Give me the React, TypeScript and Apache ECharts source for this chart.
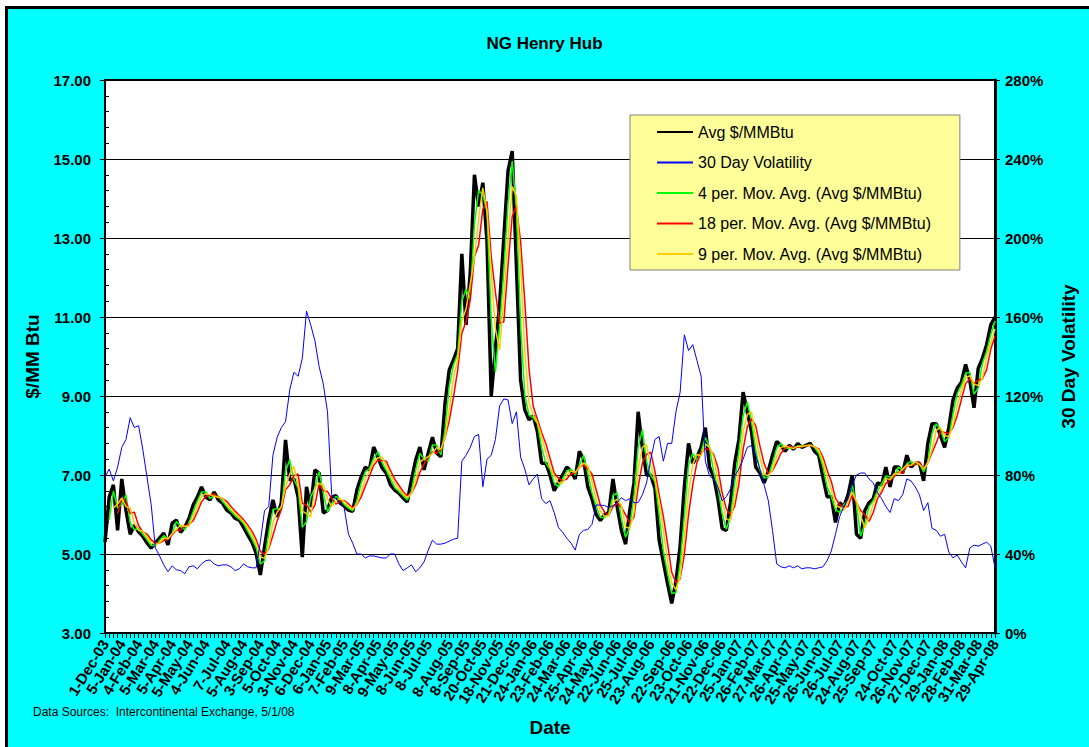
import React, { useEffect, useRef } from "react";
import * as echarts from "echarts";

// x-axis tick labels (every ~21 trading days)
const DATE_LABELS = [
  "1-Dec-03", "5-Jan-04", "4-Feb-04", "5-Mar-04", "5-Apr-04", "5-May-04", "4-Jun-04", "7-Jul-04",
  "5-Aug-04", "3-Sep-04", "5-Oct-04", "3-Nov-04", "6-Dec-04", "6-Jan-05", "7-Feb-05", "9-Mar-05",
  "8-Apr-05", "9-May-05", "8-Jun-05", "8-Jul-05", "8-Aug-05", "8-Sep-05", "20-Oct-05", "18-Nov-05",
  "21-Dec-05", "24-Jan-06", "23-Feb-06", "24-Mar-06", "25-Apr-06", "24-May-06", "22-Jun-06", "25-Jul-06",
  "23-Aug-06", "22-Sep-06", "23-Oct-06", "21-Nov-06", "22-Dec-06", "25-Jan-07", "26-Feb-07", "27-Mar-07",
  "26-Apr-07", "25-May-07", "26-Jun-07", "26-Jul-07", "24-Aug-07", "25-Sep-07", "24-Oct-07", "26-Nov-07",
  "27-Dec-07", "29-Jan-08", "28-Feb-08", "31-Mar-08", "29-Apr-08",
];

const AVG_PRICE = [
  5.3, 6.44, 6.75, 5.6, 6.9, 6.1, 5.5, 5.73, 5.56, 5.45,
  5.28, 5.15, 5.28, 5.4, 5.53, 5.23, 5.78, 5.86, 5.55, 5.68,
  5.9, 6.24, 6.44, 6.7, 6.44, 6.37, 6.57, 6.37, 6.29, 6.11,
  6.04, 5.9, 5.86, 5.68, 5.48, 5.3, 5.02, 4.47, 5.18, 5.86,
  6.37, 5.94, 6.3, 7.89, 6.87, 6.9, 6.44, 4.92, 6.7, 6.19,
  7.13, 7.05, 6.04, 6.1, 6.44, 6.48, 6.29, 6.21, 6.11, 6.08,
  6.62, 6.95, 7.2, 7.13, 7.71, 7.46, 7.18, 7.05, 6.75, 6.62,
  6.54, 6.42, 6.32, 6.87, 7.38, 7.71, 7.13, 7.56, 7.96, 7.56,
  7.46, 8.82, 9.66, 9.91, 10.2, 12.6, 10.8, 12.1, 14.6, 13.8,
  14.4, 12.9, 9.0, 10.2, 11.3, 13.0, 14.7, 15.2, 12.3, 9.4,
  8.65, 8.4, 8.5, 8.1, 7.3, 7.3, 7.0, 6.6, 6.8, 7.0,
  7.2, 7.1, 6.9, 7.6, 7.4, 6.7, 6.4, 6.0, 5.85, 6.0,
  6.05, 6.9, 6.2, 5.6, 5.25, 6.1, 6.8, 8.6, 7.7, 7.0,
  7.0, 6.66, 5.35, 4.8, 4.25, 3.75, 4.3, 5.2, 6.7, 7.8,
  7.3, 7.45, 7.7, 8.2, 7.2, 6.95, 6.4, 5.65, 5.6, 6.3,
  7.3, 7.9, 9.1, 8.6, 8.1, 7.2, 7.05, 6.8, 7.1, 7.5,
  7.85, 7.75, 7.6, 7.75, 7.65, 7.8, 7.7, 7.75, 7.8, 7.6,
  7.5, 6.95, 6.45, 6.45, 5.8, 6.3, 6.2, 6.5, 7.0, 5.5,
  5.4, 6.1, 6.3, 6.4, 6.8, 6.75, 7.2, 6.7, 7.2, 7.2,
  7.05, 7.5, 7.2, 7.3, 7.3, 6.85, 7.8, 8.3, 8.3, 8.0,
  7.7, 8.2, 8.9, 9.2, 9.35, 9.8, 9.4, 8.7, 9.7, 9.95,
  10.3, 10.8, 11.0,
];

// 30 Day Volatility, %, same sampling
const VOLATILITY = [
  79, 83, 77, 84, 94, 98, 109, 104, 105, 93,
  79, 65, 43, 39, 34.5, 31, 34, 32, 31.6, 30,
  33.5, 34, 32.5, 35, 36.6, 37, 35, 34, 34.5, 34.5,
  33.5, 31.6, 32.5, 35, 33.5, 33, 33, 46, 62, 64,
  90, 99, 104, 107, 123, 132, 130, 139, 163, 156,
  148, 135, 126, 112, 70, 68, 66, 63, 50, 45.5,
  40, 40, 38, 39, 39, 38.5, 38, 38, 40, 40,
  35, 31.6, 33, 34.5, 31, 33, 36, 42, 47, 45,
  45, 45.5, 46.5, 47.5, 48, 87, 90, 94, 99.5, 100.5,
  74, 88, 90, 98, 115, 118.5, 118, 106, 112, 89,
  83, 75, 78, 80.5, 68, 65.5, 67, 61, 53.5, 51,
  48, 45.5, 42, 50, 52, 52.4, 55, 64.8, 64.8, 64.5,
  63.6, 64.5, 66, 68.5, 67, 68, 66, 66, 70, 76,
  88, 98, 99.5, 87, 96, 96, 112, 122, 151, 143,
  146, 138, 130, 87, 79.5, 78, 74, 67, 69, 73,
  79.5, 83, 88, 94, 95, 90, 83, 75, 67, 52,
  35, 33.5, 33, 34, 33, 34, 32.5, 33, 33, 32.5,
  33, 33.5, 36.6, 41.5, 50, 59, 64, 68, 75, 80,
  81, 81, 78, 76, 71, 68, 64, 61, 68, 67,
  70, 78, 77, 74, 70, 62, 66, 53, 52, 49,
  50, 41, 38, 39.5, 36, 33, 43, 44.5, 44, 45,
  46, 44, 33,
];

// Moving-average windows, in samples (each sample ~5 trading days):
// 4-day -> 2 samples, 9-day -> 3 samples, 18-day -> 4 samples
const MA_WINDOW_4 = 2;
const MA_WINDOW_9 = 3;
const MA_WINDOW_18 = 4;

const LEFT_TICKS = { min: 3, max: 17, interval: 2 };
const RIGHT_TICKS = { min: 0, max: 280, interval: 40 };

function movingAverage(values: number[], n: number): (number | null)[] {
  return values.map((_, i) => {
    if (i < n - 1) return null;
    let s = 0;
    for (let k = i - n + 1; k <= i; k++) s += values[k];
    return +(s / n).toFixed(3);
  });
}

const FONT = "'Liberation Sans', Arial, Helvetica, sans-serif";

export default function App() {
  const ref = useRef<HTMLDivElement>(null);

  useEffect(() => {
    if (!ref.current) return;
    const chart = echarts.init(ref.current, null, { renderer: "svg" });
    const n = AVG_PRICE.length;
    const labelAt: Record<number, string> = {};
    DATE_LABELS.forEach((d, i) => {
      labelAt[Math.round((i * (n - 1)) / (DATE_LABELS.length - 1))] = d;
    });
    const categories = AVG_PRICE.map((_, i) => String(i));

    const names = [
      "Avg $/MMBtu",
      "30 Day Volatility",
      "4 per. Mov. Avg. (Avg $/MMBtu)",
      "18 per. Mov. Avg. (Avg $/MMBtu)",
      "9 per. Mov. Avg. (Avg $/MMBtu)",
    ];

    chart.setOption({
      animation: false,
      textStyle: { fontFamily: FONT },
      title: {
        text: "NG Henry Hub",
        left: "center",
        top: 30,
        textStyle: { fontSize: 17, fontWeight: "bold", color: "#000", fontFamily: FONT },
      },
      grid: {
        left: 105,
        top: 80,
        width: 890,
        height: 553,
        show: true,
        backgroundColor: "#fff",
        borderColor: "#000",
        borderWidth: 2,
      },
      legend: {
        data: names,
        orient: "vertical",
        left: 630,
        top: 115,
        backgroundColor: "#FFFF99",
        borderColor: "#808080",
        borderWidth: 1,
        padding: [9, 28, 8, 26],
        itemWidth: 36,
        itemHeight: 16,
        itemGap: 14.5,
        selectedMode: false,
        itemStyle: { opacity: 0 },
        textStyle: { fontSize: 16, lineHeight: 16, color: "#000", fontFamily: FONT },
      },
      xAxis: {
        type: "category",
        data: categories,
        boundaryGap: false,
        axisLine: { lineStyle: { color: "#000", width: 2 } },
        axisTick: { show: true, interval: 0, length: 5, lineStyle: { color: "#000", width: 1 } },
        axisLabel: {
          interval: 0,
          rotate: 58,
          margin: 8,
          color: "#000",
          fontSize: 15,
          fontWeight: "bold",
          fontFamily: FONT,
          formatter: (_v: string, i: number) => labelAt[i] || "",
        },
        splitLine: { show: false },
        name: "Date",
        nameLocation: "middle",
        nameGap: 85,
        nameTextStyle: { fontSize: 19, fontWeight: "bold", color: "#000", fontFamily: FONT },
      },
      yAxis: [
        {
          type: "value",
          ...LEFT_TICKS,
          position: "left",
          axisLine: { show: true, lineStyle: { color: "#000", width: 2 } },
          axisTick: { show: true, length: 5, lineStyle: { color: "#000" } },
          minorTick: { show: true, splitNumber: 5, length: -4, lineStyle: { color: "#000" } },
          splitLine: { show: true, lineStyle: { color: "#000", width: 1 } },
          axisLabel: {
            margin: 14,
            color: "#000",
            fontSize: 15,
            fontWeight: "bold",
            fontFamily: FONT,
            formatter: (v: number) => v.toFixed(2),
          },
          name: "$/MM Btu",
          nameLocation: "middle",
          nameRotate: 90,
          nameGap: 63,
          nameTextStyle: { fontSize: 19, fontWeight: "bold", color: "#000", fontFamily: FONT },
        },
        {
          type: "value",
          ...RIGHT_TICKS,
          position: "right",
          axisLine: { show: true, lineStyle: { color: "#000", width: 3 } },
          axisTick: { show: true, length: 5, lineStyle: { color: "#000" } },
          splitLine: { show: false },
          axisLabel: {
            margin: 10,
            color: "#000",
            fontSize: 15,
            fontWeight: "bold",
            fontFamily: FONT,
            formatter: "{value}%",
          },
          name: "30 Day Volatility",
          nameLocation: "middle",
          nameRotate: 90,
          nameGap: 64,
          nameTextStyle: { fontSize: 19, fontWeight: "bold", color: "#000", fontFamily: FONT },
        },
      ],
      graphic: [
        {
          type: "text",
          left: 33,
          top: 706,
          style: {
            text: "Data Sources:  Intercontinental Exchange, 5/1/08",
            fontSize: 12,
            fill: "#000",
            fontFamily: FONT,
          },
        },
      ],
      series: [
        {
          name: names[0],
          type: "line",
          yAxisIndex: 0,
          data: AVG_PRICE,
          symbol: "none",
          lineStyle: { color: "#000", width: 3.5 },
          itemStyle: { color: "#000" },
        },
        {
          name: names[2],
          type: "line",
          yAxisIndex: 0,
          data: movingAverage(AVG_PRICE, MA_WINDOW_4),
          symbol: "none",
          lineStyle: { color: "#00FF00", width: 1.5 },
          itemStyle: { color: "#00FF00" },
        },
        {
          name: names[3],
          type: "line",
          yAxisIndex: 0,
          data: movingAverage(AVG_PRICE, MA_WINDOW_18),
          symbol: "none",
          lineStyle: { color: "#FF0000", width: 1.5 },
          itemStyle: { color: "#FF0000" },
        },
        {
          name: names[4],
          type: "line",
          yAxisIndex: 0,
          data: movingAverage(AVG_PRICE, MA_WINDOW_9),
          symbol: "none",
          lineStyle: { color: "#FFCC00", width: 1.5 },
          itemStyle: { color: "#FFCC00" },
        },
        {
          name: names[1],
          type: "line",
          yAxisIndex: 1,
          data: VOLATILITY,
          symbol: "none",
          lineStyle: { color: "#0000FF", width: 1 },
          itemStyle: { color: "#0000FF" },
        },
      ],
    });

    return () => chart.dispose();
  }, []);

  return (
    <div
      style={{
        position: "fixed",
        left: 0,
        top: 0,
        width: 1089,
        height: 747,
        background: "#fff",
        overflow: "hidden",
      }}
    >
      <div
        style={{
          position: "absolute",
          left: 5,
          top: 6,
          width: 1100,
          height: 760,
          background: "#00FFFF",
          border: "3px solid #000",
          boxSizing: "border-box",
        }}
      />
      <div ref={ref} style={{ position: "absolute", left: 0, top: 0, width: 1089, height: 747 }} />
    </div>
  );
}
